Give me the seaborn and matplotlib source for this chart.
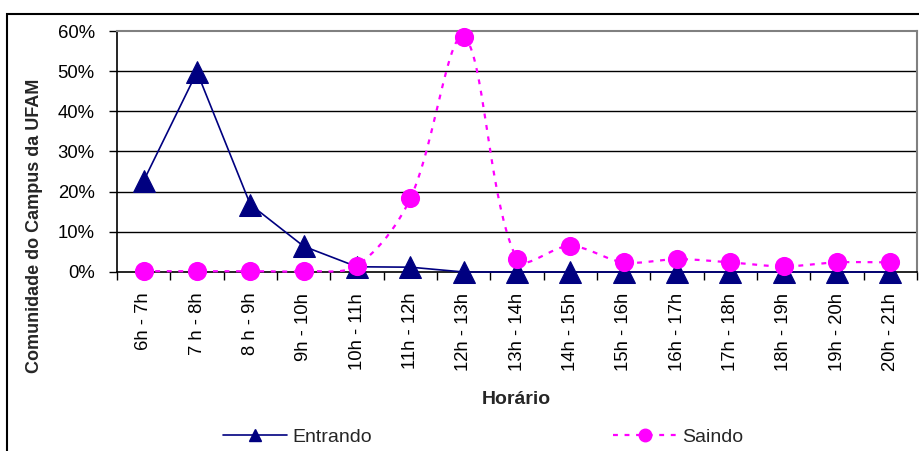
import numpy as np
import matplotlib
matplotlib.use("Agg")
import matplotlib.pyplot as plt
from matplotlib.lines import Line2D
from matplotlib.patches import Rectangle
from matplotlib.ticker import FuncFormatter, MultipleLocator, FixedLocator
import seaborn as sns

# Hourly share of the campus community entering / leaving (in %)
horarios = ["6h - 7h", "7 h - 8h", "8 h - 9h", "9h - 10h", "10h - 11h", "11h - 12h",
            "12h - 13h", "13h - 14h", "14h - 15h", "15h - 16h", "16h - 17h",
            "17h - 18h", "18h - 19h", "19h - 20h", "20h - 21h"]
entrando = [22.7, 49.8, 16.8, 6.4, 1.3, 1.2, 0.0, 0.0, 0.0, 0.0, 0.0, 0.0, 0.0, 0.0, 0.0]
saindo = [0.2, 0.2, 0.2, 0.2, 1.6, 18.3, 58.5, 3.2, 6.5, 2.4, 3.2, 2.4, 1.4, 2.4, 2.4]

NAVY = "#000080"
MAGENTA = "#FF00FF"

sns.set_theme(style="white")
plt.rcParams["font.family"] = ["Liberation Sans", "DejaVu Sans"]

W, H = 919, 451
fig = plt.figure(figsize=(W / 100, H / 100), dpi=100)
ax = fig.add_axes([117 / W, 1 - 272 / H, 800 / W, 241 / H])

pos = np.arange(len(horarios))


def smooth(x, y, sx=1.0, sy=1.0, n=40):
    """Smoothed curve through the points: cubic Bezier segments whose
    tangent handles are split in proportion to the neighbouring chord
    lengths (measured in display-like units sx, sy)."""
    P = np.column_stack([np.asarray(x, float) * sx, np.asarray(y, float) * sy])
    m = len(P)
    t = np.linspace(0, 1, n)[:, None]
    out = []
    for i in range(m - 1):
        p0, p3 = P[i], P[i + 1]
        d01 = np.linalg.norm(p3 - p0)
        prev = P[i - 1] if i > 0 else p0
        nxt = P[i + 2] if i + 2 < m else p3
        dp = np.linalg.norm(p0 - prev)
        dn = np.linalg.norm(nxt - p3)
        tan0 = p3 - prev
        tan1 = nxt - p0
        f0 = d01 / (d01 + dp) if (d01 + dp) > 0 else 0
        f1 = d01 / (d01 + dn) if (d01 + dn) > 0 else 0
        p1 = p0 + tan0 * f0 / 3
        p2 = p3 - tan1 * f1 / 3
        b = (1 - t) ** 3 * p0 + 3 * (1 - t) ** 2 * t * p1 + 3 * (1 - t) * t ** 2 * p2 + t ** 3 * p3
        out.append(b if i == 0 else b[1:])
    B = np.vstack(out)
    return B[:, 0] / sx, B[:, 1] / sy


# Horizontal grid
for v in range(10, 60, 10):
    ax.axhline(v, color="black", lw=1.0, zorder=1)

# Entrando: straight line with triangles
sns.lineplot(x=pos, y=entrando, ax=ax, color=NAVY, lw=1.2, marker="^",
             markersize=16, markeredgecolor=NAVY, clip_on=False, zorder=3,
             legend=False)

# Saindo: smoothed dotted line with circles
cx, cy = smooth(pos, saindo, sx=53.3, sy=4.02)
ax.plot(cx, cy, color=MAGENTA, lw=1.6, ls=(0, (2.2, 3.0)), zorder=4, clip_on=False)
sns.scatterplot(x=pos, y=saindo, ax=ax, color=MAGENTA, s=190, edgecolor=MAGENTA,
                linewidth=0, zorder=5, clip_on=False, legend=False)

ax.set_xlim(-0.5, len(horarios) - 0.5)
ax.set_ylim(0, 60)
ax.yaxis.set_major_locator(MultipleLocator(10))
ax.yaxis.set_major_formatter(FuncFormatter(lambda v, _: f"{v:.0f}%"))
ax.set_xticks(pos)
ax.set_xticklabels(horarios, rotation=90, ha="center", va="top")
ax.xaxis.set_minor_locator(FixedLocator(np.arange(-0.5, len(horarios), 1.0)))
ax.tick_params(axis="x", which="major", length=0, pad=15, labelsize=13.3, colors="black")
ax.tick_params(axis="x", which="minor", length=6, width=1, direction="out", color="black", bottom=True)
ax.tick_params(axis="y", which="major", length=6, width=1, direction="out", pad=10,
               labelsize=13.3, colors="black", left=True)
ax.set_xlabel("")
ax.set_ylabel("")

for side in ["left", "bottom"]:
    ax.spines[side].set_color("black")
    ax.spines[side].set_linewidth(1.2)
for side in ["top", "right"]:
    ax.spines[side].set_color("#808080")
    ax.spines[side].set_linewidth(1.5)

# Titles
fig.text(516 / W, 1 - 399 / H, "Horário", ha="center", va="center",
         fontsize=14, fontweight="bold")
fig.text(35 / W, 1 - 226 / H, "Comunidade do Campus da UFAM", ha="center", va="center",
         rotation=90, fontsize=13, fontweight="bold")

# Legend
h_ent = Line2D([], [], color=NAVY, lw=1.2, marker="^", markersize=9)
h_sai = Line2D([], [], color=MAGENTA, lw=1.6, ls=(0, (2.2, 3.0)), marker="o", markersize=9)
fig.legend([h_ent, h_sai], ["Entrando", "Saindo"], loc="center left",
           bbox_to_anchor=(223 / W, 1 - 437 / H), ncol=2, frameon=False,
           fontsize=14, handlelength=3.3, handletextpad=0.25, columnspacing=12.4,
           borderaxespad=0, borderpad=0)

# Chart-area border
fig.add_artist(Rectangle((7 / W, -0.1), 1.2, 1 - 14 / H + 0.1, transform=fig.transFigure,
                         fill=False, edgecolor="black", lw=1.5))

fig.savefig("out.png", dpi=100, facecolor="white")
